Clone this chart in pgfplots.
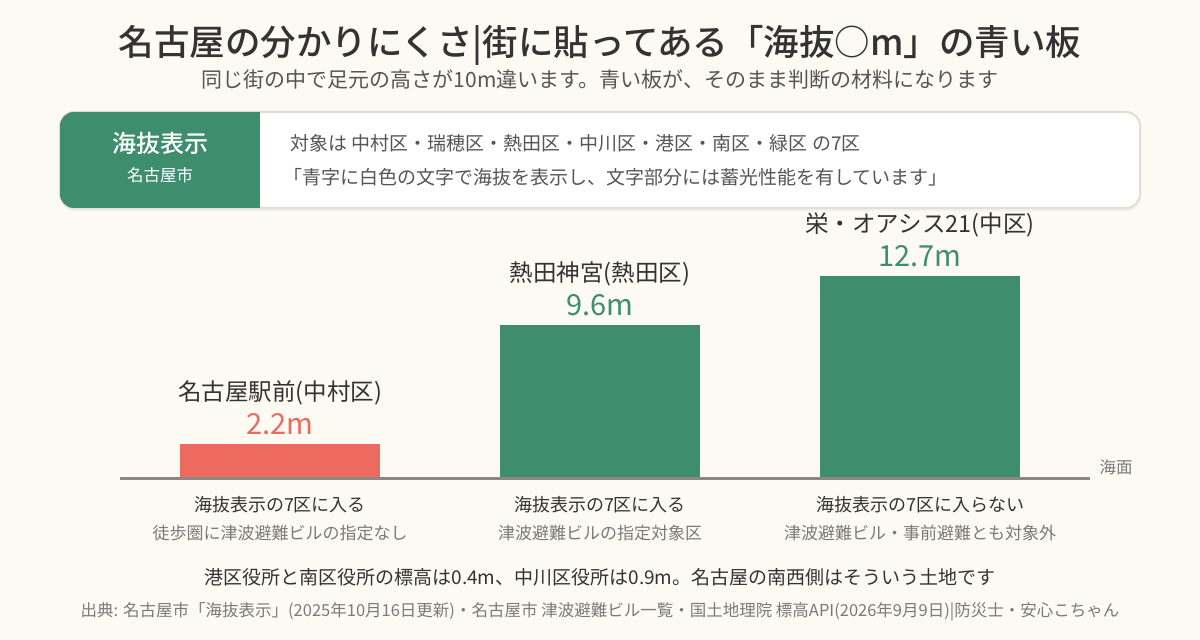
\documentclass[border=0pt]{standalone}
\usepackage{pgfplots}
\pgfplotsset{compat=1.18}
\usepackage{fontspec}
\setmainfont{Noto Sans CJK JP}
\newfontfamily\medium{Noto Sans CJK JP Medium}
\definecolor{bg}{HTML}{FDFAF3}
\definecolor{grn}{HTML}{3E8E6E}
\definecolor{red}{HTML}{EC6B5E}
\definecolor{dark}{HTML}{333333}
\definecolor{mid}{HTML}{555555}
\definecolor{gry}{HTML}{7A7A7A}
\definecolor{base}{HTML}{8E8781}
\definecolor{boxline}{HTML}{E2DED6}
\newcommand{\fs}[1]{\fontsize{#1}{#1}\selectfont}
\begin{document}
\begin{tikzpicture}[x=1pt,y=1pt]
\fill[bg] (0,0) rectangle (1200,640);
\useasboundingbox (0,0) rectangle (1200,640);
% title
\node[text=dark] at (600,595) {\fs{35.5}\medium 名古屋の分かりにくさ|街に貼ってある「海抜○m」の青い板};
\node[text=mid] at (600,560) {\fs{21}同じ街の中で足元の高さが10m違います。青い板が、そのまま判断の材料になります};
% info box
\fill[black, opacity=0.04, rounded corners=14] (61,429) rectangle (1141,525);
\draw[boxline, line width=2pt, fill=white, rounded corners=14] (60,432) rectangle (1140,528);
\begin{scope}
\clip[rounded corners=14] (60,432) rectangle (1140,528);
\fill[grn] (60,432) rectangle (260,528);
\end{scope}
\node[text=white] at (160,497) {\fs{24}\medium 海抜表示};
\node[text=white] at (160,465) {\fs{16.5}名古屋市};
\node[text=mid, anchor=west] at (287,497) {\fs{19}対象は 中村区・瑞穂区・熱田区・中川区・港区・南区・緑区 の7区};
\node[text=mid, anchor=west] at (280,463) {\fs{19}「青字に白色の文字で海抜を表示し、文字部分には蓄光性能を有しています」};
% chart
\begin{axis}[
  at={(120pt,161pt)}, anchor=south west,
  scale only axis, width=970pt, height=260pt,
  xmin=-0.5, xmax=2.53125, ymin=0, ymax=16.25,
  hide axis, clip=false,
  ybar, bar width=200pt, bar shift=0pt,
]
\addplot[fill=red, draw=none] coordinates {(0,2.2)};
\addplot[fill=grn, draw=none] coordinates {(1,9.6)};
\addplot[fill=grn, draw=none] coordinates {(2,12.7)};
\draw[base, line width=3pt] (axis cs:-0.5,0) -- (axis cs:2.53125,0);
\node[text=gry, anchor=west] at (axis cs:2.53125,0) [yshift=12pt, xshift=6pt] {\fs{16.5}海面};
% value labels
\node[text=red] at (axis cs:0,2.2) [yshift=20pt] {\fs{29}2.2m};
\node[text=grn] at (axis cs:1,9.6) [yshift=20pt] {\fs{29}9.6m};
\node[text=grn] at (axis cs:2,12.7) [yshift=20pt] {\fs{29}12.7m};
\node[text=dark] at (axis cs:0,2.2) [yshift=51pt] {\fs{23.5}名古屋駅前(中村区)};
\node[text=dark] at (axis cs:1,9.6) [yshift=51pt] {\fs{23.5}熱田神宮(熱田区)};
\node[text=dark] at (axis cs:2,12.7) [yshift=51pt] {\fs{23.5}栄・オアシス21(中区)};
% category descriptions
\node[text=dark] at (axis cs:0,0) [yshift=-26pt] {\fs{18}海抜表示の7区に入る};
\node[text=dark] at (axis cs:1,0) [yshift=-26pt] {\fs{18}海抜表示の7区に入る};
\node[text=dark] at (axis cs:2,0) [yshift=-26pt] {\fs{18}海抜表示の7区に入らない};
\node[text=gry] at (axis cs:0,0) [yshift=-54pt] {\fs{17}徒歩圏に津波避難ビルの指定なし};
\node[text=gry] at (axis cs:1,0) [yshift=-54pt] {\fs{17}津波避難ビルの指定対象区};
\node[text=gry] at (axis cs:2,0) [yshift=-54pt] {\fs{17}津波避難ビル・事前避難とも対象外};
\end{axis}
\node[text=dark] at (600,63) {\fs{19}港区役所と南区役所の標高は0.4m、中川区役所は0.9m。名古屋の南西側はそういう土地です};
\node[text=gry] at (600,28) {\fs{16.5}出典: 名古屋市「海抜表示」(2025年10月16日更新)・名古屋市 津波避難ビル一覧・国土地理院 標高API(2026年9月9日)|防災士・安心こちゃん};
\end{tikzpicture}
\end{document}
